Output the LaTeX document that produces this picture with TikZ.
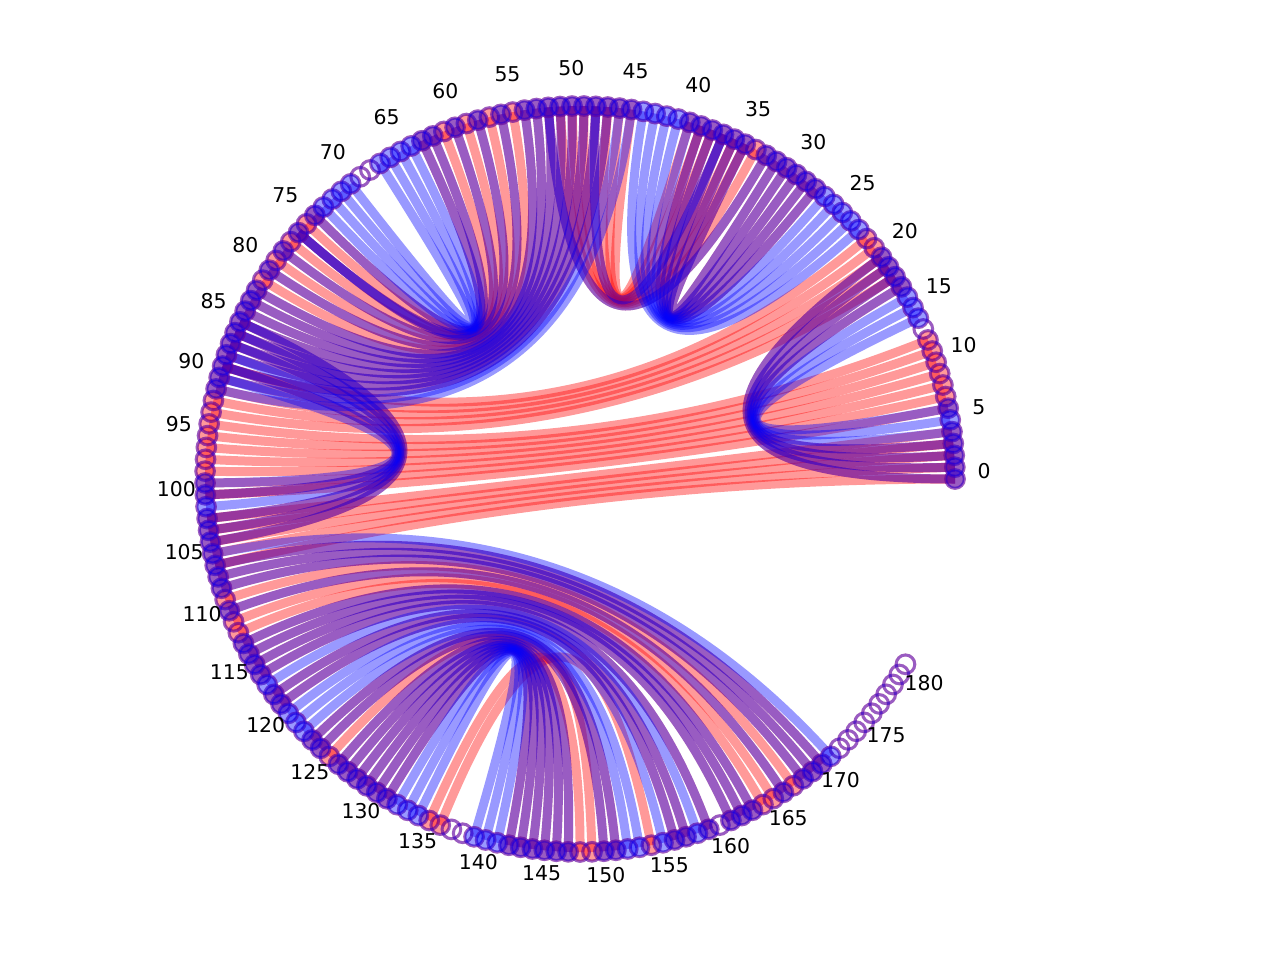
\documentclass[tikz,border=0pt]{standalone}
\usepackage{fontspec}
\setmainfont{DejaVu Sans}
\usetikzlibrary{calc}
\def\chordlist{0/20/p, 1/19/p, 2/18/p, 3/17/p, 4/16/b, 5/15/b, 6/14/b,
18/93/r, 19/92/r, 20/91/r, 21/90/r, 22/89/r,
8/98/r, 9/97/r, 10/96/r, 11/95/r, 12/94/r,
6/100/r, 7/99/r,
0/106/r, 1/105/r, 2/104/r, 3/103/r, 4/102/r,
85/104/p, 86/103/p, 87/102/p, 88/101/b, 89/100/p, 90/99/b,
23/44/b, 24/43/b, 25/42/b, 26/41/b, 27/40/b, 28/39/p, 29/38/p, 30/37/p, 31/36/p, 32/35/p,
33/52/p, 34/51/r, 35/50/r, 36/49/r, 37/48/p, 38/47/r, 39/46/r, 40/45/r,
45/91/b, 46/90/b, 47/89/p, 48/88/p, 49/87/p, 50/86/p, 51/85/p, 52/84/p, 53/83/p, 54/82/p,
55/81/r, 56/80/p, 57/79/r, 58/78/p, 59/77/r, 60/76/p, 61/75/r, 62/76/p,
63/74/p, 64/73/b, 65/72/b, 66/71/b, 67/70/b,
105/171/b, 106/170/p, 107/169/p, 108/168/p, 109/167/r, 110/166/p, 111/165/r, 112/164/r,
113/163/p, 114/162/p, 115/161/p, 116/159/p, 117/158/b, 118/157/p, 119/156/p, 120/155/b,
121/153/b, 122/152/b, 123/151/p, 124/150/p, 125/148/r, 126/147/p, 127/146/p, 128/145/p,
129/144/p, 130/143/p, 131/142/p, 132/141/b, 133/140/b, 134/139/b, 135/149/r, 136/154/r}
\begin{document}
\begin{tikzpicture}[x=0.75pt,y=-0.75pt]
\tikzset{
  redchord/.style={draw=red, draw opacity=0.4, line width=6.75pt},
  bluechord/.style={draw=blue, draw opacity=0.4, line width=6.75pt},
  redmark/.style={draw=red, draw opacity=0.4, line width=2.25pt},
  bluemark/.style={draw=blue, draw opacity=0.4, line width=2.25pt},
  lab/.style={font=\fontsize{15.3}{18}\selectfont, inner sep=0pt, text=black}
}
\useasboundingbox (0,0) rectangle (1280,960);
\coordinate (c) at (580,479);
\foreach \i in {0,...,181}{
  \coordinate (p\i) at ({580+375*cos(\i*1.8244)},{479-373*sin(\i*1.8244)});
}
% red structure (quadratic Bezier with the centre as control point)
\foreach \a/\b/\kk in \chordlist {
  \if\kk b\relax\else
    \draw[redchord] (p\a) .. controls ($(p\a)!0.6667!(c)$) and ($(p\b)!0.6667!(c)$) .. (p\b);
    \expandafter\gdef\csname hr\a\endcsname{}%
    \expandafter\gdef\csname hr\b\endcsname{}%
  \fi
}
% blue structure
\foreach \a/\b/\kk in \chordlist {
  \if\kk r\relax\else
    \draw[bluechord] (p\a) .. controls ($(p\a)!0.6667!(c)$) and ($(p\b)!0.6667!(c)$) .. (p\b);
    \expandafter\gdef\csname hb\a\endcsname{}%
    \expandafter\gdef\csname hb\b\endcsname{}%
  \fi
}
% markers
\foreach \i in {0,...,181}{
  \ifcsname hr\i\endcsname
    \filldraw[redmark, fill=red, fill opacity=0.4] (p\i) circle (7pt);
  \else
    \draw[redmark] (p\i) circle (7pt);
  \fi
}
\foreach \i in {0,...,181}{
  \ifcsname hb\i\endcsname
    \filldraw[bluemark, fill=blue, fill opacity=0.4] (p\i) circle (7pt);
  \else
    \draw[bluemark] (p\i) circle (7pt);
  \fi
}
% labels
\foreach \k in {0,5,...,180}{
  \node[lab] (l\k) at ({580+404*cos(\k*1.8244)},{471.5-404*sin(\k*1.8244)}) {\k};
}
\end{tikzpicture}
\end{document}
